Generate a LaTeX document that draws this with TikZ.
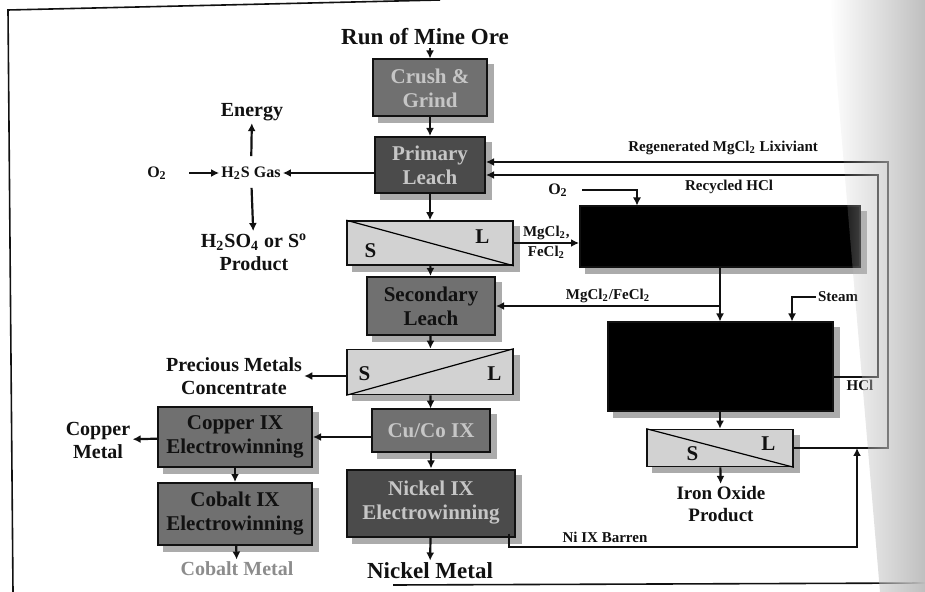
\documentclass[tikz,border=0pt]{standalone}
\usepackage{fontspec}
\setmainfont{Liberation Serif}
\usetikzlibrary{arrows.meta,positioning,calc,fadings,backgrounds}
\definecolor{ink}{HTML}{111111}
\definecolor{midbox}{HTML}{707070}
\definecolor{darkbox}{HTML}{4B4B4B}
\definecolor{sepfill}{HTML}{D2D2D2}
\definecolor{shadegray}{HTML}{ABABAB}
\definecolor{lighttext}{HTML}{C6C6C6}
\definecolor{muted}{HTML}{8C8C8C}
\tikzfading[name=fade right,left color=transparent!100,right color=transparent!0]
\tikzset{
  proc/.style={draw=ink,line width=1pt,fill=midbox,align=center,inner sep=2pt,
    font=\bfseries\fontsize{10.5}{12}\selectfont,text=ink},
  procd/.style={proc,fill=darkbox,text=lighttext},
  procl/.style={proc,text=lighttext},
  blk/.style={proc,fill=black},
  sepbox/.style={draw=ink,line width=.8pt,fill=sepfill},
  sl/.style={font=\bfseries\fontsize{10.5}{12}\selectfont,text=ink,inner sep=0pt},
  lbl/.style={font=\bfseries\fontsize{10}{11.5}\selectfont,align=center,text=ink,inner sep=1pt},
  sm/.style={font=\bfseries\fontsize{7.5}{9}\selectfont,text=ink,inner sep=1pt},
  ar/.style={-{Latex[length=4pt,width=4pt]},draw=ink,line width=1.1pt},
  art/.style={ar,line width=.6pt},
}

\begin{document}
\begin{tikzpicture}[x=.5pt,y=-.5pt]
  \useasboundingbox (0,0) rectangle (925,592);
  % page edge
  \draw[ink,line width=.8pt] (440,0) -- (8,10) -- (13,592);
  \draw[ink,line width=.8pt] (393,585) -- (925,583);

  % main column
  \node[lbl,font=\bfseries\fontsize{11.5}{13}\selectfont] (rom) at (425,37) {Run of Mine Ore};
  \node[procl,minimum width=57pt,minimum height=28.5pt] (cg) at (430,88) {Crush \&\\Grind};
  \node[procd,minimum width=55pt,minimum height=28pt] (pl) at (430,165) {Primary\\Leach};
  \node[sepbox,minimum width=83pt,minimum height=22pt] (s1) at (430,243) {};
  \draw[line width=.6pt] (s1.north west) -- (s1.south east);
  \node[sl,anchor=west] (s1s) at ([xshift=9pt,yshift=-4pt]s1.west) {S};
  \node[sl,anchor=east] (s1l) at ([xshift=-12pt,yshift=3pt]s1.east) {L};
  \node[proc,minimum width=64pt,minimum height=29pt] (sl) at (431,306) {Secondary\\Leach};
  \node[sepbox,minimum width=83pt,minimum height=22.5pt] (s2) at (430,372) {};
  \draw[line width=.6pt] (s2.south west) -- (s2.north east);
  \node[sl,anchor=west] (s2s) at ([xshift=6pt,yshift=-1pt]s2.west) {S};
  \node[sl,anchor=east] (s2l) at ([xshift=-6pt,yshift=-1pt]s2.east) {L};
  \node[procl,minimum width=59pt,minimum height=21.5pt] (cc) at (431,431) {Cu/Co IX};
  \node[procd,minimum width=84pt,minimum height=33.5pt] (ni) at (431,503) {Nickel IX\\Electrowinning};
  \node[lbl,font=\bfseries\fontsize{11.5}{13}\selectfont] (nm) at (430,571) {Nickel Metal};
  \draw[ar] (rom.south -| cg.north) -- (cg);
  \draw[ar] (cg) -- (pl);
  \draw[ar] (pl) -- (s1);
  \draw[ar] (s1) -- (sl);
  \draw[ar] (sl) -- (s2);
  \draw[ar] (s2) -- (cc);
  \draw[ar] (cc) -- (ni);
  \draw[ar] (ni) -- (nm);

  % gas side
  \node[sm,font=\bfseries\fontsize{8}{9}\selectfont] (hs) at (251,173) {H\textsubscript{2}S Gas};
  \node[sm,font=\bfseries\fontsize{8}{9}\selectfont] (o2a) at (157,173) {O\textsubscript{2}};
  \node[lbl] (en) at (252,112) {Energy};
  \node[lbl] (acid) at (254,252) {H\textsubscript{2}SO\textsubscript{4} or S\textsuperscript{o}\\Product};
  \draw[ar] (pl.west |- hs) -- (hs.east);
  \draw[ar,shorten <=10pt] (o2a) -- (hs);
  \draw[ar,shorten <=4pt] (hs) -- (en);
  \draw[ar,shorten <=3pt] (hs) -- (acid);

  % precious metals, copper, cobalt
  \node[lbl] (pmc) at (234,376) {Precious Metals\\Concentrate};
  \node[proc,minimum width=77pt,minimum height=30pt] (cu) at (235,437) {Copper IX\\Electrowinning};
  \node[lbl] (cm) at (98,440) {Copper\\Metal};
  \node[proc,minimum width=77pt,minimum height=31pt] (co) at (235,514) {Cobalt IX\\Electrowinning};
  \node[lbl,text=muted] (cbm) at (237,569) {Cobalt Metal};
  \draw[ar] (s2.west |- pmc) -- (pmc);
  \draw[ar] (cc.west |- cu) -- (cu);
  \draw[ar] (cu) -- (cm);
  \draw[ar] (cu) -- (co);
  \draw[ar] (co) -- (cbm);

  % chloride circuit
  \node[blk,minimum width=140pt,minimum height=30.5pt] (b1) at (720,237) {};
  \node[blk,minimum width=112.5pt,minimum height=44.5pt] (b2) at (720,367) {};
  \node[sepbox,minimum width=73pt,minimum height=18.5pt] (s3) at (720,448) {};
  \draw[line width=.6pt] (s3.north west) -- (s3.south east);
  \node[sl,anchor=west] (s3s) at ([xshift=20pt,yshift=-3pt]s3.west) {S};
  \node[sl,anchor=east] (s3l) at ([xshift=-9pt,yshift=2pt]s3.east) {L};
  \node[lbl,font=\bfseries\fontsize{9.5}{11}\selectfont] (iop) at (721,504) {Iron Oxide\\Product};
  \node[sm,font=\bfseries\fontsize{8}{9}\selectfont] (o2b) at (558,190) {O\textsubscript{2}};
  \node[sm] (stm) at (838,297) {Steam};
  \draw[ar] (s1.east) -- (s1.east -| b1.west)
    node[sm,midway,above]{MgCl\textsubscript{2},} node[sm,midway,below]{FeCl\textsubscript{2}};
  \draw[art] ([xshift=6pt]o2b.east) -| ([xshift=-41.5pt]b1.north);
  \draw[ar] (b1) -- (b2);
  \coordinate (mf) at (b1.south |- sl.east);
  \draw[ar] (mf) -- (sl.east) node[sm,midway,above]{MgCl\textsubscript{2}/FeCl\textsubscript{2}};
  \draw[ar] (stm.west) -| ([xshift=36pt]b2.north);
  \draw[ar] (b2) -- (s3);
  \draw[ar] (s3) -- (iop);

  % recycle lines
  \coordinate (rg) at (888,162);
  \coordinate (hc) at (878,175);
  \coordinate (nb) at (857,547);
  \draw[ar] (s3.east) -| (rg) -- (rg -| pl.east)
    node[sm,pos=.41,above=2pt] (rml) {Regenerated MgCl\textsubscript{2} Lixiviant};
  \draw[ar] ([yshift=-5pt]b2.east) node[sm,anchor=north west,xshift=5pt] (hcl) {HCl} -| (hc) -- (hc -| pl.east)
    node[sm,pos=.38,below=1pt] (rhc) {Recycled HCl};
  \draw[ar,line width=.8pt] ([xshift=-3.5pt,yshift=2pt]ni.south east) |- (nb) -- (nb |- s3.east);
  \node[sm] (nib) at (605,537) {Ni IX Barren};

  % box shadows
  \begin{scope}[on background layer]
    \foreach \n in {cg,pl,s1,sl,s2,cc,ni,cu,co,b1,b2,s3}
      \fill[shadegray] ([xshift=3pt,yshift=-3pt]\n.south west) rectangle ([xshift=3pt,yshift=-3pt]\n.north east);
  \end{scope}

  % scan shadow on the right
  \fill[gray!50,path fading=fade right] (830,0) -- (925,0) -- (925,592) -- (880,592) -- cycle;
\end{tikzpicture}
\end{document}
